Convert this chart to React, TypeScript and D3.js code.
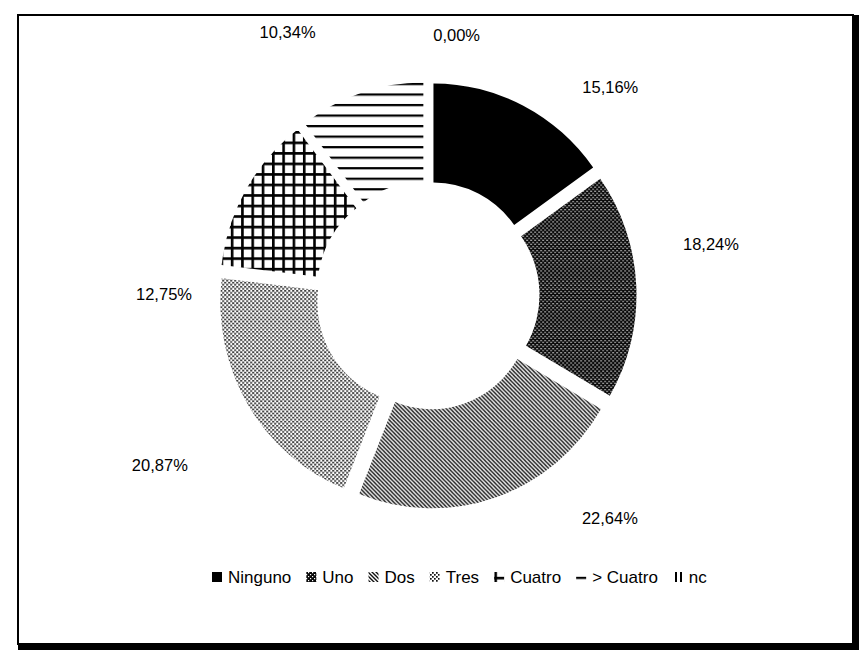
import React, { useEffect, useRef } from 'react';
import * as d3 from 'd3';

// ---- data ----
const categories = ['Ninguno', 'Uno', 'Dos', 'Tres', 'Cuatro', '> Cuatro', 'nc'];
const values = [15.16, 18.24, 22.64, 20.87, 12.75, 10.34, 0.0];
const valueLabels = ['15,16%', '18,24%', '22,64%', '20,87%', '12,75%', '10,34%', '0,00%'];

// ---- layout ----
const W = 861;
const H = 650;
const CX = 427.5;
const CY = 295.5;
const R_OUT = 196;
const R_IN = 99;
const EXPLODE = 13;
const Y_STRETCH = 1.022;
// label anchor in polar coords (degrees clockwise from top, distance from centre)
const labelPolar: [number, number][] = [
  [41.3, 277],
  [79.8, 288],
  [140.7, 288],
  [237.6, 317],
  [270.4, 263.5],
  [332, 298],
  [6.4, 261.6],
];
const patternIds = ['p0', 'p1', 'p2', 'p3', 'p4', 'p5', 'p6'];
const FONT = "'Liberation Sans', Arial, sans-serif";

export default function App() {
  const ref = useRef<SVGSVGElement | null>(null);

  useEffect(() => {
    const svg = d3.select(ref.current);
    svg.selectAll('*').remove();

    const defs = svg.append('defs');
    // Ninguno: solid black
    const p0 = defs.append('pattern').attr('id', 'p0').attr('patternUnits', 'userSpaceOnUse').attr('width', 4).attr('height', 4);
    p0.append('rect').attr('width', 4).attr('height', 4).attr('fill', '#000');
    // Uno: dark with white dots
    const p1 = defs.append('pattern').attr('id', 'p1').attr('patternUnits', 'userSpaceOnUse').attr('width', 4).attr('height', 4);
    p1.append('rect').attr('width', 4).attr('height', 4).attr('fill', '#0a0a0a');
    p1.append('rect').attr('x', 0).attr('y', 0).attr('width', 1.2).attr('height', 1.2).attr('fill', '#fff');
    p1.append('rect').attr('x', 2).attr('y', 2).attr('width', 1.2).attr('height', 1.2).attr('fill', '#fff');
    // Dos: diagonal fine hatch
    const p2 = defs.append('pattern').attr('id', 'p2').attr('patternUnits', 'userSpaceOnUse').attr('width', 4).attr('height', 4);
    p2.append('rect').attr('width', 4).attr('height', 4).attr('fill', '#fff');
    p2.append('path').attr('d', 'M0,0L4,4M-1,3L1,5M3,-1L5,1').attr('stroke', '#111').attr('stroke-width', 1.4);
    // Tres: light checker dots
    const p3 = defs.append('pattern').attr('id', 'p3').attr('patternUnits', 'userSpaceOnUse').attr('width', 4).attr('height', 4);
    p3.append('rect').attr('width', 4).attr('height', 4).attr('fill', '#fff');
    p3.append('rect').attr('x', 0).attr('y', 0).attr('width', 1.7).attr('height', 1.7).attr('fill', '#111');
    p3.append('rect').attr('x', 2).attr('y', 2).attr('width', 1.7).attr('height', 1.7).attr('fill', '#111');
    // Cuatro: grid
    const p4 = defs.append('pattern').attr('id', 'p4').attr('patternUnits', 'userSpaceOnUse').attr('width', 10.3).attr('height', 10.3);
    p4.append('rect').attr('width', 10.3).attr('height', 10.3).attr('fill', '#fff');
    p4.append('rect').attr('x', 0).attr('y', 0).attr('width', 2.6).attr('height', 10.3).attr('fill', '#000');
    p4.append('rect').attr('x', 0).attr('y', 0).attr('width', 10.3).attr('height', 2.6).attr('fill', '#000');
    // > Cuatro: horizontal lines
    const p5 = defs.append('pattern').attr('id', 'p5').attr('patternUnits', 'userSpaceOnUse').attr('width', 10).attr('height', 10.3);
    p5.append('rect').attr('width', 10).attr('height', 10.3).attr('fill', '#fff');
    p5.append('rect').attr('x', 0).attr('y', 0).attr('width', 10).attr('height', 2.2).attr('fill', '#000');
    // nc: vertical lines
    const p6 = defs.append('pattern').attr('id', 'p6').attr('patternUnits', 'userSpaceOnUse').attr('width', 5).attr('height', 5);
    p6.append('rect').attr('width', 5).attr('height', 5).attr('fill', '#fff');
    p6.append('rect').attr('x', 0).attr('y', 0).attr('width', 2).attr('height', 5).attr('fill', '#000');

    // background + frame
    svg.append('rect').attr('width', W).attr('height', H).attr('fill', '#fff');
    svg.append('rect').attr('x', 18).attr('y', 15).attr('width', 835).attr('height', 629)
      .attr('fill', 'none').attr('stroke', '#000').attr('stroke-width', 2);
    svg.append('rect').attr('x', 852).attr('y', 15).attr('width', 7).attr('height', 635).attr('fill', '#000');
    svg.append('rect').attr('x', 18).attr('y', 643).attr('width', 841).attr('height', 7).attr('fill', '#000');

    // doughnut
    const pie = d3.pie<number>().sort(null).value((d) => d);
    const arcs = pie(values);
    const arcGen = d3.arc<d3.PieArcDatum<number>>().innerRadius(R_IN).outerRadius(R_OUT);
    const g = svg.append('g').attr('transform', `translate(${CX},${CY}) scale(1,${Y_STRETCH})`);
    g.selectAll('path.slice')
      .data(arcs.filter((a) => a.value > 0))
      .join('path')
      .attr('class', 'slice')
      .attr('d', (a) => arcGen(a) as string)
      .attr('fill', (a) => `url(#${patternIds[a.index]})`)
      .attr('transform', (a) => {
        const mid = (a.startAngle + a.endAngle) / 2;
        return `translate(${Math.sin(mid) * EXPLODE},${-Math.cos(mid) * EXPLODE})`;
      });

    // value labels
    svg.append('g')
      .selectAll('text')
      .data(arcs)
      .join('text')
      .attr('x', (a) => CX + Math.sin((labelPolar[a.index][0] * Math.PI) / 180) * labelPolar[a.index][1])
      .attr('y', (a) => CY - Math.cos((labelPolar[a.index][0] * Math.PI) / 180) * labelPolar[a.index][1])
      .attr('text-anchor', 'middle')
      .attr('dy', '0.36em')
      .attr('font-family', FONT)
      .attr('font-size', 16.5)
      .attr('fill', '#000')
      .text((a) => valueLabels[a.index]);

    // legend
    const legend = svg.append('g');
    let x = 212;
    const baseY = 583;
    categories.forEach((c, i) => {
      legend.append('rect').attr('x', x).attr('y', baseY - 11).attr('width', 10).attr('height', 10)
        .attr('fill', `url(#${patternIds[i]})`);
      const t = legend.append('text').attr('x', x + 16).attr('y', baseY)
        .attr('font-family', FONT).attr('font-size', 17).attr('fill', '#000').text(c);
      const w = (t.node() as SVGTextElement).getComputedTextLength();
      x = x + 16 + w + 15;
    });
  }, []);

  return (
    <svg
      ref={ref}
      width={W}
      height={H}
      style={{ position: 'absolute', left: 0, top: 0, display: 'block' }}
    />
  );
}
